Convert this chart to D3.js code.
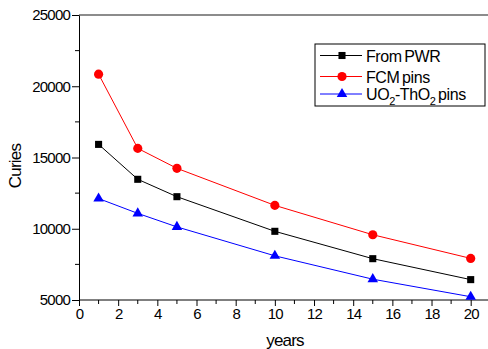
<!DOCTYPE html>
<html>
<head>
<meta charset="utf-8">
<script src="https://cdn.jsdelivr.net/npm/d3@7"></script>
<style>
  body { margin: 0; background: #fff; }
  text { font-family: "Liberation Sans", Arial, sans-serif; fill: #000; }
</style>
</head>
<body>
<script>
// data
const years = [1, 3, 5, 10, 15, 20];
const fromPWR = [15920, 13470, 12250, 9820, 7900, 6430];
const fcmPins = [20850, 15640, 14240, 11640, 9580, 7920];
const uoThoPins = [12120, 11080, 10130, 8100, 6460, 5230];
const xTicks = [0, 2, 4, 6, 8, 10, 12, 14, 16, 18, 20];
const yTicks = [5000, 10000, 15000, 20000, 25000];

const width = 488, height = 349;
const svg = d3.select("body").append("svg")
  .attr("width", width).attr("height", height);

const x = d3.scaleLinear().domain([0, 20]).range([79, 470.7]);
const y = d3.scaleLinear().domain([5000, 25000]).range([300, 15]);

// frame top line (runs off the right edge)
svg.append("line")
  .attr("x1", 79).attr("x2", width).attr("y1", 15).attr("y2", 15)
  .attr("stroke", "#666").attr("stroke-width", 1.5);

// minor ticks
const xAxisG = svg.append("g").attr("transform", "translate(0,300)");
xAxisG.selectAll(".minor").data(d3.range(1, 21, 2)).enter().append("line")
  .attr("x1", d => x(d)).attr("x2", d => x(d))
  .attr("y1", 0).attr("y2", 4).attr("stroke", "#000");
xAxisG.call(d3.axisBottom(x).tickValues(xTicks).tickFormat(d3.format("d"))
  .tickSize(6).tickPadding(2).tickSizeOuter(0));
xAxisG.select(".domain").attr("d", "M79,0H" + width);

const yAxisG = svg.append("g").attr("transform", "translate(79,0)");
yAxisG.selectAll(".minor").data([7500, 12500, 17500, 22500]).enter().append("line")
  .attr("x1", 0).attr("x2", -4)
  .attr("y1", d => y(d)).attr("y2", d => y(d)).attr("stroke", "#000");
yAxisG.call(d3.axisLeft(y).tickValues(yTicks).tickFormat(d3.format("d"))
  .tickSize(7).tickPadding(2).tickSizeOuter(0));

svg.selectAll(".tick text")
  .style("font-family", "Liberation Sans, Arial, sans-serif")
  .style("font-size", "15px")
  .style("letter-spacing", "-0.8px");
svg.selectAll(".domain, .tick line").attr("stroke", "#000");

// axis titles
svg.append("text").attr("x", 285).attr("y", 346)
  .attr("text-anchor", "middle").style("font-size", "17px").style("letter-spacing", "-0.8px")
  .text("years");
svg.append("text").attr("transform", "translate(21,166) rotate(-90)")
  .attr("text-anchor", "middle").style("font-size", "17px").style("letter-spacing", "-0.8px")
  .text("Curies");

const series = [
  { name: "From PWR", values: fromPWR, color: "#000", shape: d3.symbolSquare, size: 50 },
  { name: "FCM pins", values: fcmPins, color: "#ff0000", shape: d3.symbolCircle, size: 66 },
  { name: "UO2-ThO2 pins", values: uoThoPins, color: "#0000ff", shape: d3.symbolTriangle, size: 48 }
];

const line = d3.line().x(d => x(d[0])).y(d => y(d[1]));

series.forEach(s => {
  const pts = years.map((yr, i) => [yr, s.values[i]]);
  svg.append("path").datum(pts).attr("d", line)
    .attr("fill", "none").attr("stroke", s.color).attr("stroke-width", 1);
  svg.selectAll(null).data(pts).enter().append("path")
    .attr("d", d3.symbol().type(s.shape).size(s.size))
    .attr("transform", d => "translate(" + x(d[0]) + "," + y(d[1]) + ")")
    .attr("fill", s.color);
});

// legend
const legend = svg.append("g");
legend.append("rect").attr("x", 315).attr("y", 44).attr("width", 170).attr("height", 62)
  .attr("fill", "#fff").attr("stroke", "#000").attr("stroke-width", 1);
const rows = [55.5, 76.5, 94];
series.forEach((s, i) => {
  const g = legend.append("g").attr("transform", "translate(0," + rows[i] + ")");
  g.append("line").attr("x1", 320).attr("x2", 362).attr("y1", 0).attr("y2", 0)
    .attr("stroke", s.color);
  g.append("path").attr("d", d3.symbol().type(s.shape).size(s.size))
    .attr("transform", "translate(342,0)").attr("fill", s.color);
  const t = g.append("text").attr("x", 366).attr("y", 6)
    .style("font-size", "16px").style("letter-spacing", "-0.4px")
    .style("word-spacing", "-1.5px");
  if (i === 2) {
    t.append("tspan").text("UO");
    t.append("tspan").attr("dy", 5).style("font-size", "11px").text("2");
    t.append("tspan").attr("dy", -5).text("-ThO");
    t.append("tspan").attr("dy", 5).style("font-size", "11px").text("2");
    t.append("tspan").attr("dy", -5).text(" pins");
  } else {
    t.text(s.name);
  }
});
</script>
</body>
</html>
